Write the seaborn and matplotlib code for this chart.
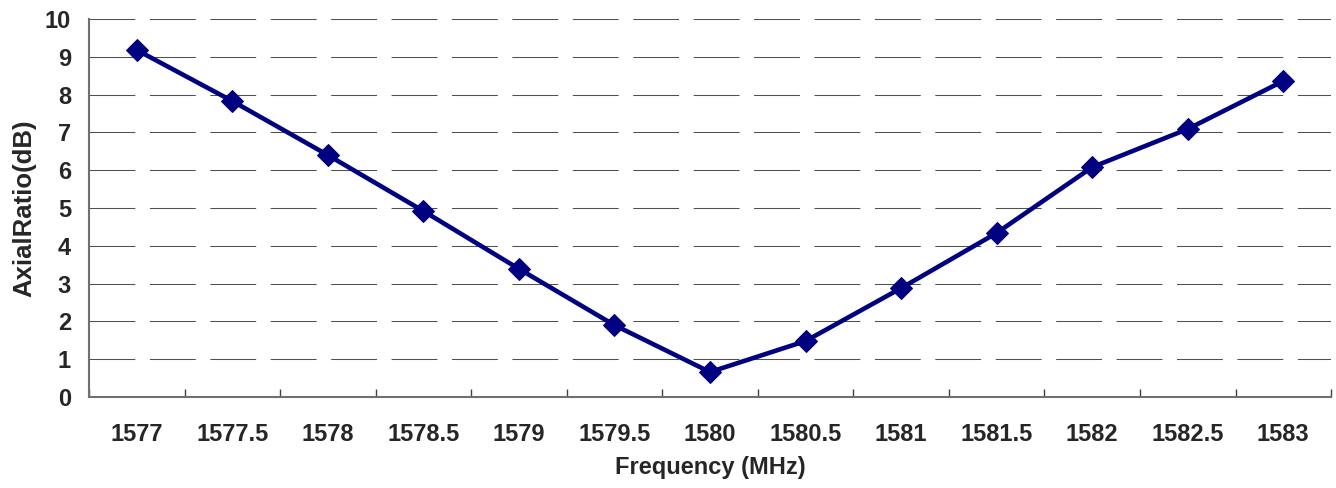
import pandas as pd
import numpy as np
import matplotlib
matplotlib.use("Agg")
import matplotlib.pyplot as plt
from matplotlib.ticker import FixedLocator
import seaborn as sns

# -------------------------------
# Data
# -------------------------------
freq_labels = ["1577", "1577.5", "1578", "1578.5", "1579", "1579.5", "1580",
               "1580.5", "1581", "1581.5", "1582", "1582.5", "1583"]
axial_ratio = [9.18, 7.83, 6.40, 4.92, 3.39, 1.90, 0.66,
               1.48, 2.88, 4.34, 6.08, 7.09, 8.36]

df = pd.DataFrame({"pos": range(len(freq_labels)), "ar": axial_ratio})

# -------------------------------
# Style
# -------------------------------
sns.set_style("white")
plt.rcParams["font.family"] = ["Liberation Sans", "DejaVu Sans"]
plt.rcParams["font.weight"] = "bold"

fig = plt.figure(figsize=(13.36, 4.88), dpi=100)
ax = fig.add_axes([0.0666, 0.1865, 0.9297, 0.7745])

sns.lineplot(data=df, x="pos", y="ar", ax=ax, color="#000080", linewidth=3.3,
             marker="D", markersize=11, markeredgecolor="#000080")

# axes limits
ax.set_xlim(-0.5, len(freq_labels) - 0.5)
ax.set_ylim(0, 10)

# dashed horizontal grid
ax.set_yticks(range(0, 11))
ax.yaxis.grid(True, color="#505050", linewidth=0.75, linestyle=(0, (44, 14)))
ax.xaxis.grid(False)
ax.set_axisbelow(True)

# category ticks
ax.set_xticks(range(len(freq_labels)))
ax.set_xticklabels(freq_labels, fontsize=17, fontweight="bold")
ax.xaxis.set_minor_locator(FixedLocator(np.arange(-0.5, len(freq_labels), 1)))
ax.tick_params(axis="x", which="major", length=0, pad=19)
ax.tick_params(axis="x", which="minor", length=6, direction="in", width=1,
               color="#404040", bottom=True)
ax.tick_params(axis="y", length=0, pad=13, labelsize=17)
for t in ax.get_yticklabels():
    t.set_fontweight("bold")

# spines
sns.despine(ax=ax, top=True, right=True)
for s in ["left", "bottom"]:
    ax.spines[s].set_color("#707070")
    ax.spines[s].set_linewidth(1.5)

ax.set_xlabel("Frequency (MHz)", fontsize=17, fontweight="bold", labelpad=7)
ax.set_ylabel("AxialRatio(dB)", fontsize=18.5, fontweight="bold", labelpad=6)

plt.savefig("out.png", dpi=100)
